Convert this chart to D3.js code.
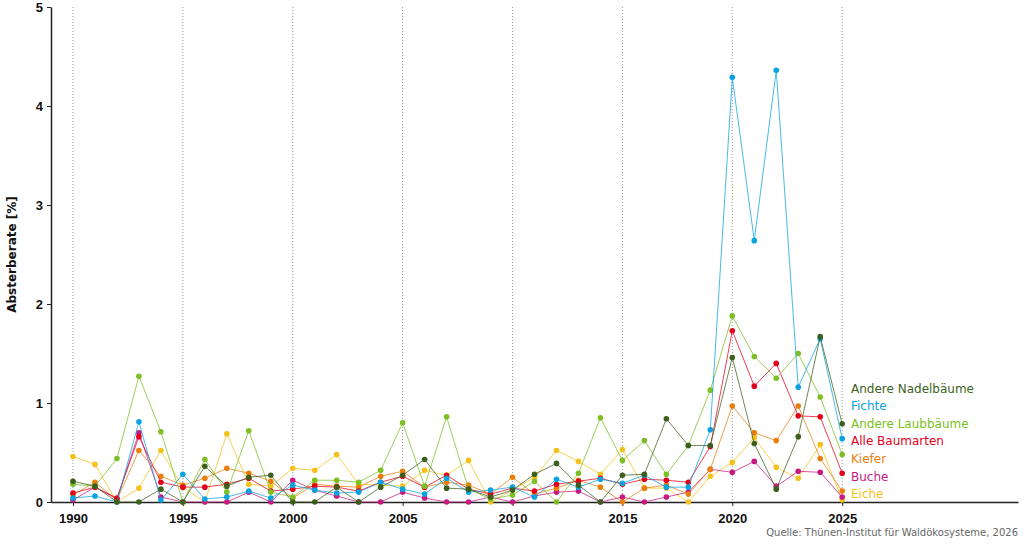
<!DOCTYPE html>
<html><head><meta charset="utf-8">
<script src="https://cdn.jsdelivr.net/npm/d3@7"></script>
<style>
body{margin:0;background:#fff;}
svg{display:block;font-family:"DejaVu Sans",sans-serif;}
</style></head>
<body><svg id="c" width="1024" height="544"></svg>
<script>
const years = d3.range(1990, 2026);
const seriesNames = ["Eiche","Buche","Kiefer","Alle Baumarten","Andere Laubbäume","Fichte","Andere Nadelbäume"];
const seriesColors = ["#f5c21b","#c8197f","#e87f0c","#e3001b","#7bbf22","#0aa3e0","#3d5f1d"];
const eiche = [0.46,0.38,0.0,0.14,0.52,0.15,0.0,0.69,0.18,0.16,0.34,0.32,0.48,0.18,0.17,0.16,0.32,0.27,0.42,0.0,0.12,0.25,0.52,0.41,0.28,0.53,0.14,0.14,0.0,0.26,0.40,0.65,0.35,0.24,0.58,0.02];
const buche = [0.02,0.15,0.03,0.70,0.05,0.0,0.0,0.0,0.10,0.0,0.22,0.12,0.06,0.0,0.0,0.10,0.04,0.0,0.0,0.05,0.0,0.06,0.10,0.11,0.0,0.05,0.0,0.05,0.10,0.33,0.30,0.41,0.16,0.31,0.30,0.05];
const kiefer = [0.07,0.20,0.02,0.52,0.26,0.17,0.24,0.34,0.29,0.21,0.04,0.18,0.16,0.15,0.26,0.31,0.15,0.20,0.17,0.08,0.25,0.08,0.14,0.22,0.15,0.0,0.14,0.17,0.08,0.33,0.97,0.70,0.62,0.97,0.44,0.11];
const alle = [0.09,0.15,0.04,0.66,0.20,0.15,0.15,0.18,0.24,0.11,0.13,0.16,0.15,0.11,0.20,0.26,0.15,0.27,0.13,0.08,0.14,0.11,0.18,0.21,0.24,0.18,0.23,0.22,0.20,0.56,1.73,1.17,1.40,0.87,0.86,0.29];
const andereLaub = [0.18,0.16,0.44,1.27,0.71,0.0,0.43,0.10,0.72,0.10,0.05,0.22,0.22,0.20,0.32,0.80,0.16,0.86,0.13,0.03,0.07,0.21,0.0,0.29,0.85,0.42,0.62,0.28,0.57,1.13,1.88,1.47,1.25,1.50,1.06,0.48];
const fichte = [0.04,0.06,0.0,0.81,0.02,0.28,0.03,0.05,0.11,0.04,0.17,0.12,0.09,0.10,0.20,0.13,0.08,0.24,0.10,0.12,0.15,0.05,0.23,0.15,0.23,0.19,0.27,0.15,0.15,0.73,4.29,2.64,4.36,1.16,1.65,0.64];
const andereNadel = [0.21,0.16,0.0,0.0,0.13,0.0,0.36,0.16,0.25,0.27,0.0,0.0,0.15,0.0,0.15,0.27,0.43,0.14,0.13,0.05,0.12,0.28,0.39,0.17,0.0,0.27,0.28,0.84,0.57,0.57,1.46,0.59,0.13,0.66,1.67,0.79];
const seriesValues = [eiche,buche,kiefer,alle,andereLaub,fichte,andereNadel];
const xTicks = [1990,1995,2000,2005,2010,2015,2020,2025];
const yTicks = [0,1,2,3,4,5];
const yLabel = "Absterberate [%]";
const sourceText = "Quelle: Thünen-Institut für Waldökosysteme, 2026";

const svg = d3.select("#c");
const x = d3.scaleLinear().domain([1989, 2033]).range([51, 1018]);
const y = d3.scaleLinear().domain([0, 5]).range([502, 7]);

// vertical dotted grid
svg.append("g").selectAll("line").data(xTicks).join("line")
  .attr("x1", d => x(d)).attr("x2", d => x(d))
  .attr("y1", y(5)).attr("y2", y(0))
  .attr("stroke", "#999").attr("stroke-width", 1).attr("stroke-dasharray", "1,2");

// axes
const xAxis = svg.append("g").attr("transform", `translate(0,${y(0)})`)
  .call(d3.axisBottom(x).tickValues(xTicks).tickFormat(d3.format("d")).tickSize(4).tickSizeOuter(0));
xAxis.select(".domain").attr("stroke", "#222").attr("stroke-width", 1.5);
xAxis.selectAll(".tick line").attr("stroke", "#222");
xAxis.selectAll("text").attr("font-size", 13).attr("font-weight", "bold").attr("fill", "#111").attr("dy", "1.1em");

const yAxis = svg.append("g").attr("transform", `translate(${x(1989)},0)`)
  .call(d3.axisLeft(y).tickValues(yTicks).tickFormat(d3.format("d")).tickSize(4).tickSizeOuter(0));
yAxis.select(".domain").attr("stroke", "#222").attr("stroke-width", 1.5);
yAxis.selectAll(".tick line").attr("stroke", "#222");
yAxis.selectAll("text").attr("font-size", 13).attr("font-weight", "bold").attr("fill", "#111").attr("x", -8);

svg.append("text").attr("transform", `translate(16,${(y(0)+y(5))/2}) rotate(-90)`)
  .attr("text-anchor", "middle").attr("font-size", 12).attr("font-weight", "bold").attr("fill", "#111")
  .text(yLabel);

const line = d3.line().x((d, i) => x(years[i])).y(d => y(d));
seriesValues.forEach((vals, si) => {
  const g = svg.append("g");
  g.append("path").datum(vals).attr("d", line)
    .attr("fill", "none").attr("stroke", seriesColors[si]).attr("stroke-width", 1).attr("stroke-opacity", 0.75);
  g.selectAll("circle").data(vals).join("circle")
    .attr("cx", (d, i) => x(years[i])).attr("cy", d => y(d)).attr("r", 2.8)
    .attr("fill", seriesColors[si]);
});

// end labels, sorted by last value and spread apart
const last = seriesValues.map((v, i) => ({name: seriesNames[i], color: seriesColors[i], v: v[v.length - 1]}));
last.sort((a, b) => a.v - b.v);
let prev = null;
last.forEach(d => {
  let py = Math.min(y(d.v), 494);
  if (prev !== null && py > prev - 17.6) py = prev - 17.6;
  d.py = py; prev = py;
});
svg.append("g").selectAll("text").data(last).join("text")
  .attr("x", 851).attr("y", d => d.py).attr("dy", "0.35em")
  .attr("font-size", 12).attr("fill", d => d.color).text(d => d.name);

svg.append("text").attr("x", 1018).attr("y", 536).attr("text-anchor", "end")
  .attr("font-size", 10).attr("fill", "#666").text(sourceText);
</script>
</body></html>
